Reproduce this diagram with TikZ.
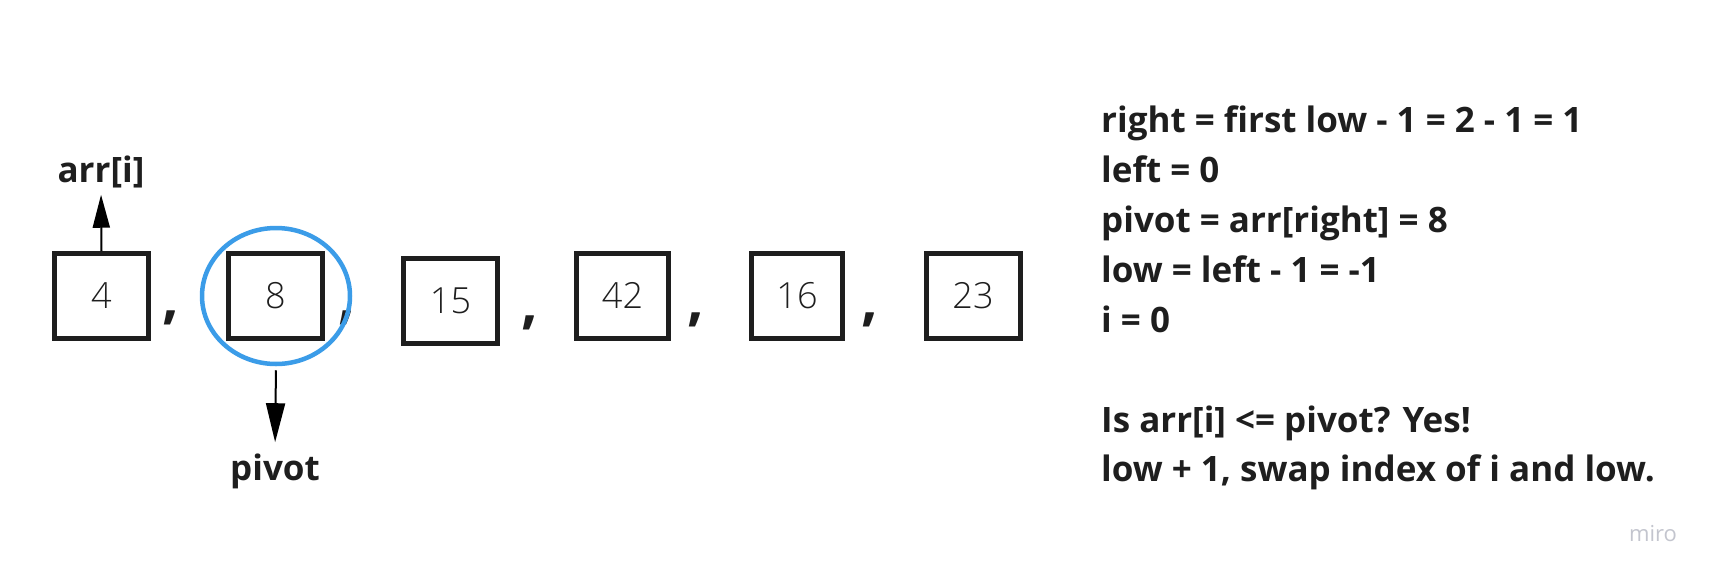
\documentclass[tikz,border=0pt]{standalone}
\usepackage{fontspec}
\setmainfont{Open Sans}
\IfFontExistsTF{Open Sans Light}{\newfontfamily\digitfont{Open Sans Light}}{\newfontfamily\digitfont{Open Sans}}
\usetikzlibrary{arrows.meta,shapes.geometric}
\definecolor{ink}{HTML}{1E1E1E}
\definecolor{pivotblue}{HTML}{3B9CE8}
\definecolor{mirogray}{HTML}{C3C5CE}
\begin{document}
\begin{tikzpicture}[x=1pt,y=-1pt,
  cell/.style={draw=ink,line width=5pt,minimum width=94pt,minimum height=85pt,inner sep=0pt,
    font=\digitfont\fontsize{36}{40}\selectfont,text=ink},
  sep/.style={inner sep=0pt,font=\fontsize{58}{60}\selectfont\bfseries,text=ink},
  lbl/.style={inner sep=0pt,font=\fontsize{35}{40}\selectfont\bfseries,text=ink},
  note/.style={inner sep=0pt,anchor=base west,font=\fontsize{35}{40}\selectfont\bfseries,text=ink},
  ptr/.style={draw=black,line width=2pt}
]
\useasboundingbox (0,0) rectangle (1718,581);
\fill[white] (0,0) rectangle (1718,581);

% array cells
\node[cell] (b1) at (101.5,296) {4};
\node[cell] (b2) at (275.5,296) {8};
\node[cell] (b3) at (450.5,301) {15};
\node[cell,minimum width=92pt] (b4) at (622.5,295.5) {42};
\node[cell,minimum width=91pt] (b5) at (797,295.5) {16};
\node[cell] (b6) at (973,296) {23};

% separators
\node[sep] (c1) at (171,318) {,};
\node[sep] (c2) at (347,318) {,};
\node[sep] (c3) at (530,323) {,};
\node[sep] (c4) at (696,320) {,};
\node[sep] (c5) at (870,320) {,};

% pivot highlight
\node[draw=pivotblue,line width=4.5pt,ellipse,minimum width=148pt,minimum height=136pt,inner sep=0pt] (ring) at (276,296) {};

% pointer labels
\node[lbl,anchor=base] (arr) at (101,182) {arr[i]};
\node[lbl,anchor=base] (piv) at (275,480) {pivot};

\draw[ptr,-{Triangle[length=33pt,width=17pt]},shorten >=7pt] (b1.north) -- (arr.south);
\draw[ptr,-{Triangle[length=39pt,width=19pt]},shorten <=4pt,shorten >=11pt] (ring.south) -- (piv.north);

% explanation
\node[note] (t1) at (1101,132) {right = first low - 1 = 2 - 1 = 1};
\node[note] (t2) at (1101,182) {left = 0};
\node[note] (t3) at (1101,232) {pivot = arr[right] = 8};
\node[note] (t4) at (1101,282) {low = left - 1 = -1};
\node[note] (t5) at (1101,332) {i = 0};
\node[note] (t6) at (1101,432) {Is arr[i] <= pivot? Yes!};
\node[note] (t7) at (1101,481) {low + 1, swap index of i and low.};

% watermark
\node[inner sep=0pt,text=mirogray,font=\fontsize{22}{24}\selectfont] (miro) at (1653,534) {miro};
\end{tikzpicture}
\end{document}
